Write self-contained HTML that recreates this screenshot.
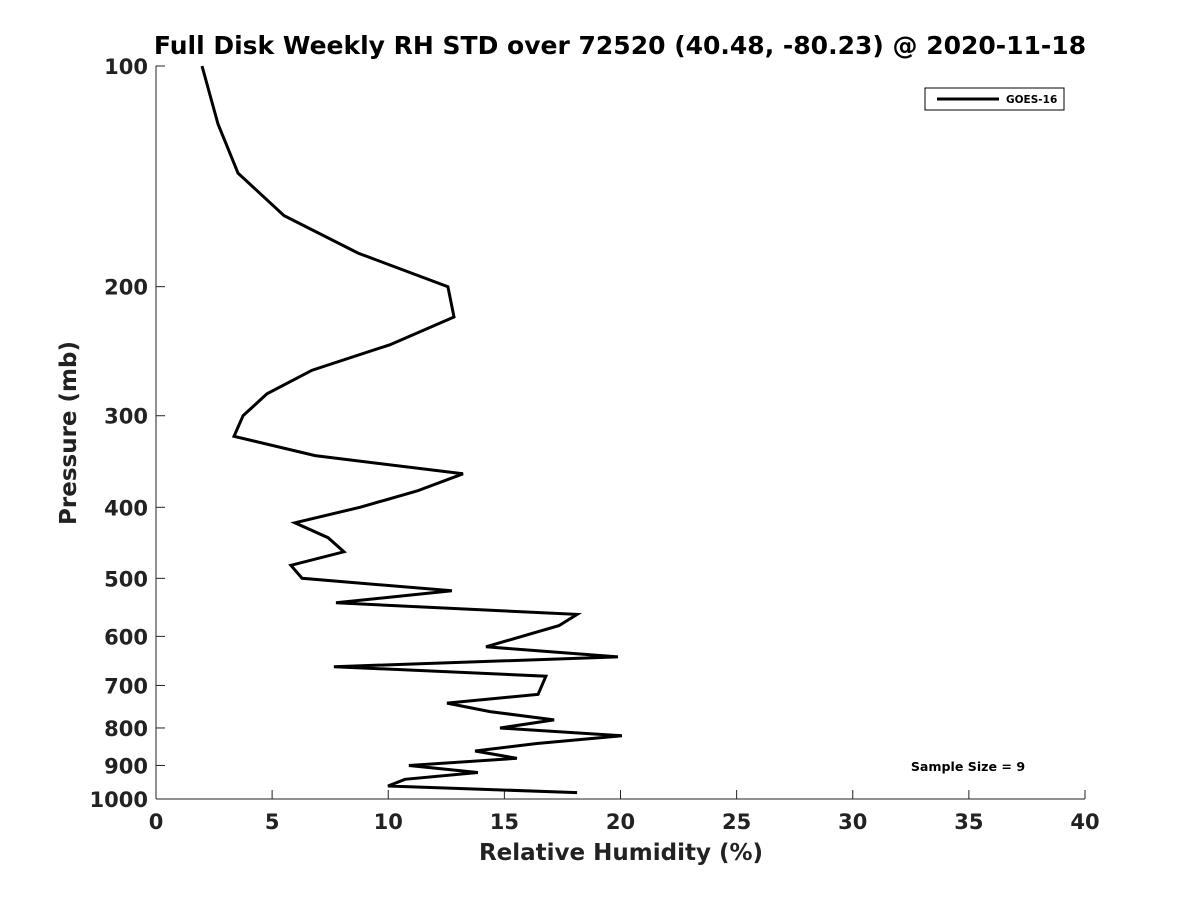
<!DOCTYPE html>
<html><head><meta charset="utf-8"><style>
body{margin:0;background:#fff;}
svg{display:block;font-family:"DejaVu Sans","Liberation Sans",sans-serif;}
</style></head><body>
<svg id="chart" width="1200" height="900">
<rect width="1200" height="900" fill="#fff"/>
<text x="620" y="54" text-anchor="middle" font-size="25" font-weight="bold" fill="#000">Full Disk Weekly RH STD over 72520 (40.48, -80.23) @ 2020-11-18</text>
<g id="axes"></g>
<path id="line" fill="none" stroke="#000" stroke-width="3" stroke-linejoin="miter"/>
<g>
<rect x="925" y="88" width="139" height="22" fill="#fff" stroke="#000" stroke-width="1"/>
<line x1="937" y1="99" x2="999" y2="99" stroke="#000" stroke-width="3"/>
<text x="1006" y="103" font-size="10.5" font-weight="bold">GOES-16</text>
</g>
<text x="968" y="771" text-anchor="middle" font-size="12.6" font-weight="bold">Sample Size = 9</text>
<text x="621" y="860" text-anchor="middle" font-size="23" font-weight="bold" fill="#222">Relative Humidity (%)</text>
<text transform="translate(76,433) rotate(-90)" text-anchor="middle" font-size="23" font-weight="bold" fill="#222">Pressure (mb)</text>
</svg>
<script>
const pressures=[100,120,140,160,180,200,220,240,260,280,300,320,340,360,380,400,420,440,460,480,500,520,540,560,580,620,640,660,680,720,740,760,780,800,820,840,860,880,900,920,940,960,980];
const rhStd=[1.98,2.67,3.53,5.51,8.70,12.57,12.83,10.08,6.72,4.78,3.75,3.36,6.85,13.22,11.24,8.78,5.98,7.41,8.09,5.81,6.29,12.74,7.75,18.13,17.35,14.21,19.89,7.66,16.79,16.45,12.53,14.38,17.14,14.81,20.06,16.40,13.74,15.54,10.89,13.86,10.72,9.99,18.13];
const xTicks=[0,5,10,15,20,25,30,35,40];
const yTicks=[100,200,300,400,500,600,700,800,900,1000];
const L=156,R=1085,T=66,B=799;
function xs(v){return L+(v-0)/(40-0)*(R-L);}
function ys(p){return T+(Math.log10(p)-2)/(3-2)*(B-T);}
const ns="http://www.w3.org/2000/svg";
const ax=document.getElementById('axes');
function mk(tag,attrs){const e=document.createElementNS(ns,tag);for(const k in attrs)e.setAttribute(k,attrs[k]);return e;}
let e=mk('line',{x1:L,y1:B,x2:R,y2:B,stroke:'#222','stroke-width':1});


ax.appendChild(e);
e=mk('line',{x1:L,y1:T,x2:L,y2:B,stroke:'#222','stroke-width':1});


ax.appendChild(e);
xTicks.forEach(v=>{
 const x=xs(v);
 const t=mk('line',{x1:x,y1:B,x2:x,y2:B-9,stroke:'#222','stroke-width':1});
 
 
 ax.appendChild(t);
 const l=mk('text',{x:x,y:B+30,'text-anchor':'middle','font-size':21,'font-weight':'bold',fill:'#222'});
 l.textContent=v;
 
 
 ax.appendChild(l);
});
yTicks.forEach(p=>{
 const y=ys(p);
 const t=mk('line',{x1:L,y1:y,x2:L+9,y2:y,stroke:'#222','stroke-width':1});
 
 
 ax.appendChild(t);
 const l=mk('text',{x:L-8,y:y+8,'text-anchor':'end','font-size':21,'font-weight':'bold',fill:'#222'});
 l.textContent=p;
 
 
 ax.appendChild(l);
});
document.getElementById('line').setAttribute('d',pressures.map((p,i)=>(i?'L':'M')+xs(rhStd[i]).toFixed(1)+','+ys(p).toFixed(1)).join(''));
</script>
</body></html>
